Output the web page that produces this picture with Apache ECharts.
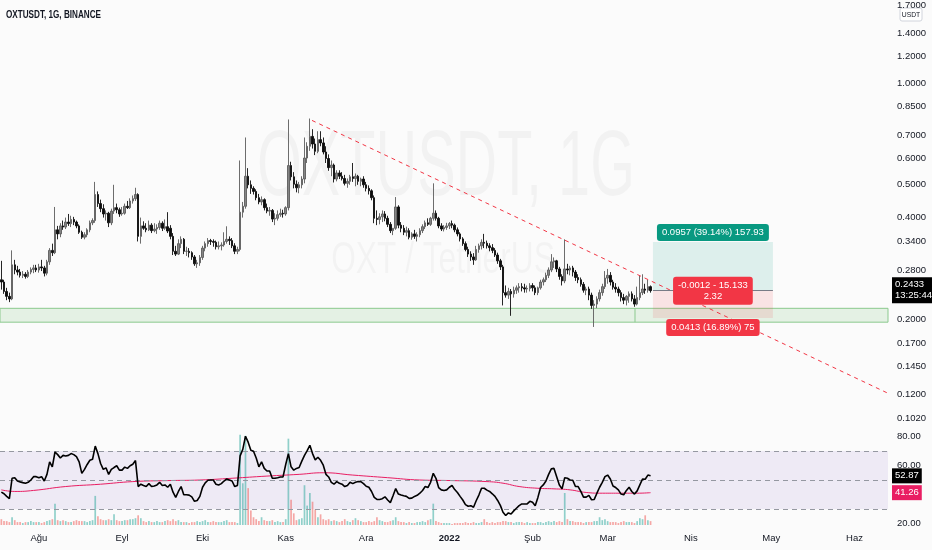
<!DOCTYPE html>
<html><head><meta charset="utf-8">
<script src="https://cdn.jsdelivr.net/npm/echarts@6/dist/echarts.min.js"></script>
<style>html,body{margin:0;padding:0;background:#fbfbfb}#c{width:932px;height:550px}</style>
</head><body><div id="c"></div>
<script>
// ---------- data ----------
const startDate = '2021-07-18';
const monthStarts = ['2021-08-01','2021-09-01','2021-10-01','2021-11-01','2021-12-01','2022-01-01','2022-02-01','2022-03-01','2022-04-01','2022-05-01','2022-06-01'];
const monthLabels = ['Ağu','Eyl','Eki','Kas','Ara','2022','Şub','Mar','Nis','May','Haz'];
const priceTicks = [1.7,1.4,1.2,1.0,0.85,0.7,0.6,0.5,0.4,0.34,0.28,0.2,0.17,0.145,0.12,0.102];
const rsiTicks = [20,60,80];
// [open, high, low, close]
const ohlc = [
[.262,.298,.245,.258],[.258,.262,.238,.242],[.242,.248,.228,.234],[.234,.240,.225,.230],[.230,.320,.228,.290],
[.290,.300,.272,.280],[.280,.288,.270,.276],[.276,.282,.266,.270],[.270,.278,.265,.272],[.272,.276,.264,.268],
[.268,.280,.265,.276],[.276,.285,.272,.281],[.281,.290,.274,.284],[.284,.290,.276,.280],[.280,.292,.275,.286],
[.286,.300,.278,.284],[.284,.288,.268,.274],[.274,.300,.270,.296],[.296,.325,.290,.320],[.320,.335,.308,.315],
[.315,.430,.312,.368],[.368,.378,.345,.358],[.358,.385,.350,.378],[.378,.392,.368,.375],[.375,.400,.370,.388],
[.388,.410,.378,.384],[.384,.405,.375,.395],[.395,.402,.380,.388],[.388,.392,.372,.378],[.378,.382,.358,.362],
[.362,.366,.346,.350],[.350,.362,.345,.356],[.356,.372,.350,.368],[.368,.392,.362,.386],[.386,.398,.380,.392],
[.392,.510,.386,.468],[.468,.478,.430,.440],[.440,.452,.415,.425],[.425,.438,.400,.410],[.410,.420,.392,.412],
[.412,.416,.375,.386],[.386,.425,.380,.418],[.418,.500,.410,.428],[.428,.440,.412,.422],[.422,.428,.402,.410],
[.410,.430,.405,.412],[.412,.440,.408,.432],[.432,.448,.424,.428],[.428,.456,.424,.448],[.448,.465,.440,.455],
[.455,.490,.448,.468],[.468,.472,.340,.352],[.352,.400,.335,.378],[.378,.390,.368,.372],[.372,.385,.362,.368],
[.368,.392,.365,.380],[.380,.385,.360,.366],[.366,.385,.362,.370],[.370,.382,.358,.374],[.374,.392,.368,.385],
[.385,.390,.365,.372],[.372,.395,.368,.376],[.376,.415,.360,.365],[.372,.380,.345,.352],[.352,.360,.310,.318],
[.318,.330,.308,.312],[.312,.345,.310,.335],[.335,.352,.325,.345],[.345,.348,.312,.318],[.318,.328,.308,.318],
[.318,.325,.305,.315],[.315,.318,.300,.306],[.306,.310,.288,.292],[.292,.300,.284,.294],[.294,.310,.288,.305],
[.305,.330,.300,.325],[.325,.340,.318,.335],[.335,.348,.328,.342],[.342,.346,.332,.340],[.340,.345,.328,.338],
[.338,.342,.322,.328],[.328,.340,.322,.330],[.330,.338,.320,.332],[.332,.362,.328,.340],[.340,.377,.335,.345],
[.345,.352,.332,.342],[.342,.348,.325,.330],[.330,.336,.312,.318],[.318,.328,.312,.322],[.322,.590,.318,.415],
[.415,.445,.400,.432],[.432,.690,.425,.530],[.530,.560,.488,.500],[.500,.515,.470,.488],[.488,.495,.468,.478],
[.478,.485,.450,.458],[.458,.470,.438,.445],[.445,.462,.435,.452],[.452,.456,.420,.428],[.428,.440,.412,.418],
[.418,.430,.405,.420],[.420,.424,.388,.396],[.396,.412,.380,.398],[.398,.420,.392,.408],[.408,.425,.402,.412],
[.412,.422,.400,.410],[.410,.432,.405,.428],[.428,.780,.420,.570],[.570,.585,.515,.528],[.528,.545,.488,.502],
[.502,.515,.475,.490],[.490,.510,.472,.500],[.500,.530,.488,.520],[.520,.690,.505,.600],[.600,.668,.580,.650],
[.650,.785,.630,.695],[.695,.730,.640,.660],[.660,.685,.612,.628],[.628,.720,.620,.680],[.680,.720,.650,.665],
[.665,.690,.615,.625],[.625,.650,.580,.598],[.598,.615,.550,.562],[.562,.590,.530,.572],[.572,.578,.508,.520],
[.520,.552,.512,.542],[.542,.552,.520,.530],[.530,.545,.515,.522],[.522,.535,.498,.505],[.505,.522,.490,.512],
[.512,.535,.500,.528],[.528,.580,.510,.522],[.522,.540,.495,.530],[.530,.535,.500,.512],[.512,.525,.495,.520],
[.520,.530,.490,.500],[.500,.510,.478,.488],[.488,.498,.468,.480],[.480,.485,.450,.458],[.458,.465,.385,.398],
[.398,.420,.380,.395],[.395,.412,.382,.402],[.402,.420,.388,.410],[.410,.418,.390,.398],[.398,.405,.375,.382],
[.382,.388,.360,.366],[.366,.372,.355,.372],[.372,.460,.368,.430],[.430,.435,.372,.380],[.380,.388,.362,.372],
[.372,.380,.355,.362],[.362,.376,.352,.366],[.366,.372,.345,.350],[.350,.362,.344,.358],[.358,.368,.346,.352],
[.352,.362,.340,.356],[.356,.372,.350,.366],[.366,.382,.360,.376],[.376,.392,.370,.386],[.386,.398,.378,.382],
[.382,.402,.378,.398],[.398,.505,.392,.412],[.412,.420,.392,.398],[.398,.402,.372,.378],[.378,.385,.365,.370],
[.370,.380,.364,.374],[.374,.386,.368,.378],[.378,.388,.370,.384],[.384,.392,.372,.380],[.380,.384,.362,.368],
[.368,.374,.352,.358],[.358,.362,.340,.346],[.346,.350,.330,.335],[.335,.340,.318,.322],[.322,.328,.306,.312],
[.312,.318,.298,.306],[.306,.314,.290,.300],[.300,.330,.298,.322],[.322,.335,.315,.330],[.330,.345,.322,.338],
[.338,.358,.325,.336],[.336,.342,.324,.330],[.330,.336,.318,.326],[.326,.334,.314,.320],[.320,.325,.306,.310],
[.310,.315,.292,.298],[.298,.302,.280,.286],[.286,.290,.220,.240],[.240,.252,.232,.236],[.236,.248,.230,.242],
[.242,.246,.205,.238],[.238,.250,.232,.244],[.244,.252,.238,.248],[.248,.256,.240,.250],[.250,.256,.242,.248],
[.248,.255,.240,.246],[.246,.252,.240,.247],[.247,.256,.242,.252],[.252,.256,.242,.248],[.248,.252,.236,.240],
[.240,.250,.236,.248],[.248,.262,.245,.258],[.258,.266,.252,.262],[.262,.275,.258,.270],[.270,.285,.265,.280],
[.280,.312,.276,.296],[.296,.305,.284,.298],[.298,.300,.276,.282],[.282,.286,.262,.268],[.268,.272,.252,.260],
[.260,.345,.256,.282],[.282,.292,.272,.280],[.280,.288,.270,.284],[.284,.288,.268,.276],[.276,.280,.260,.266],
[.266,.272,.256,.262],[.262,.266,.250,.254],[.254,.258,.240,.244],[.244,.250,.236,.246],[.246,.250,.228,.236],
[.236,.240,.215,.220],[.220,.228,.190,.222],[.222,.234,.216,.230],[.230,.245,.226,.240],[.240,.255,.235,.250],
[.250,.278,.246,.265],[.265,.282,.255,.270],[.270,.276,.252,.258],[.258,.262,.245,.249],[.249,.256,.240,.246],
[.246,.250,.234,.240],[.240,.244,.226,.232],[.232,.238,.222,.228],[.228,.236,.220,.234],[.234,.242,.224,.238],
[.238,.242,.226,.230],[.230,.236,.218,.222],[.222,.250,.220,.232],[.232,.270,.228,.240],[.240,.272,.236,.246],
[.246,.255,.238,.244],[.244,.262,.240,.250],[.250,.252,.240,.2433]
];
const volume = [
6,4,4,3,8,5,3,3,2,3, 3,4,3,3,3,2,3,4,5,6, 22,5,4,5,4,3,3,4,5,4, 4,4,3,4,5,30,9,6,5,5,
6,5,11,5,4,4,5,5,6,6, 7,10,7,4,3,4,3,3,4,3, 3,4,5,4,6,4,5,3,3,3, 2,3,3,4,3,4,5,3,3,4,
3,3,3,4,5,3,3,3,2,93, 43,92,38,15,8,6,4,8,5,4, 4,5,3,4,3,3,6,89,26,12, 5,6,7,41,20,33,24,16,8,11,
6,5,6,4,5,4,3,4,6,4, 3,5,7,5,4,3,3,4,3,4, 8,5,4,3,3,4,5,8,4,3, 3,2,3,2,2,3,3,4,3,5,
6,22,4,3,2,2,2,2,1,2, 2,2,2,3,2,2,3,2,2,3, 6,3,2,3,2,3,3,4,4,3, 3,2,3,3,3,2,3,2,2,2,
3,3,2,3,4,3,4,3,4,3, 33,6,4,4,3,3,3,2,3,3, 3,4,4,8,5,6,4,3,3,3, 2,3,4,3,3,3,2,4,7,6, 10,5,4
];
const rsi = [
41.6,40.5,38.7,37.1,51.2,51.6,49.3,48.7,48.2,47.8, 48.4,50.0,52.3,52.3,51.6,52.3,49.3,53.9,62.5,59.1,
69.3,67.5,65.2,67.0,66.6,67.0,68.2,67.5,66.1,62.5, 54.6,57.3,60.7,63.6,64.3,73.4,68.2,61.4,57.3,58.4,
53.9,57.3,58.6,59.8,56.8,56.8,58.9,58.0,59.8,60.9, 63.4,45.5,47.1,46.2,45.5,47.5,45.5,45.9,46.6,48.4,
46.2,46.6,45.0,47.1,41.6,38.0,42.1,45.5,39.8,39.8, 39.6,38.4,35.3,35.9,38.7,45.0,48.0,49.8,50.0,50.0,
47.1,46.6,47.5,49.3,50.7,50.0,49.3,45.5,46.2,66.6, 71.1,80.2,76.1,70.5,69.8,65.2,59.1,62.5,58.0,56.2,
56.2,51.2,51.2,51.6,52.1,52.1,60.7,68.2,59.1,56.8, 58.0,58.6,63.0,67.0,70.2,73.9,68.2,63.9,65.7,63.6,
60.2,53.9,52.1,48.4,47.1,48.9,47.8,47.1,45.5,46.2, 48.4,47.5,48.4,48.9,48.9,47.5,45.7,45.0,42.1,38.0,
36.6,36.6,37.1,38.4,36.2,34.4,39.1,44.1,40.3,39.6, 39.1,38.7,37.3,37.5,38.7,39.4,40.9,42.8,45.5,44.8,
48.4,54.6,51.2,44.8,43.2,42.8,43.2,45.0,46.2,43.4, 41.4,38.7,36.2,33.0,31.9,32.3,31.2,35.7,39.6,44.3,
44.3,43.0,42.1,40.5,38.7,35.9,32.5,27.8,25.5,27.3, 26.6,28.7,30.5,32.3,33.5,33.5,33.5,35.3,34.6,32.3,
38.0,44.8,46.6,49.3,53.9,57.7,58.0,52.3,46.6,43.9, 51.6,51.2,50.0,49.8,45.5,45.5,42.1,38.2,38.2,39.4,
36.4,36.6,40.9,45.0,48.4,52.3,53.4,50.7,45.9,44.8, 43.2,40.3,39.8,42.8,45.0,42.1,40.3,42.5,46.6,50.7,
50.5,53.4,52.87
];
// RSI moving average, read at [candle index, value]
const rsiMa = [[0,43.2],[5,42.1],[12,42.8],[24,45.5],[37,47.1],[49,48.9],[62,49.6],[74,50.0],[86,51.2],[99,52.7],
[111,53.9],[120,55.0],[131,53.4],[144,51.6],[156,50.0],[168,49.6],[181,48.9],[187,47.8],[193,45.5],[200,44.3],
[206,43.9],[212,43.2],[218,41.4],[224,40.9],[231,40.9],[237,40.9],[242,41.26]];
const lastPrice = 0.2433, lastTime = '13:25:44';
const rsiLast = 52.87, rsiMaLast = 41.26;
const supportZone = [0.1963, 0.2157];
const supportMarkIdx = 236.2;
const trendLine = [[115.8, 0.775], [330.5, 0.121]];
const pos = { from: 242.88, to: 287.6, entry: 0.2433, target: 0.3390, stop: 0.2020 };
const posLabels = ['0.0957 (39.14%) 157.93', '-0.0012 - 15.133\n2.32', '0.0413 (16.89%) 75'];

// ---------- build ----------
const FF = "'Liberation Sans',Arial,sans-serif";
const L = Math.log;
const day0 = Date.parse(startDate);
const monthIdx = monthStarts.map(d => Math.round((Date.parse(d) - day0) / 864e5));
const X0 = -0.5, X1 = 330.5;
const candles = ohlc.map((r, i) => [i, L(r[0]), L(r[3]), L(r[2]), L(r[1])]);
const vols = volume.map((v, i) => {
  const r = ohlc[i] || ohlc[ohlc.length - 1];
  const up = r[3] >= r[0];
  return { value: [i, v], itemStyle: { color: up ? 'rgba(38,166,154,0.5)' : 'rgba(239,83,80,0.5)' } };
});
const YMAX = 0.33647 + 29.3 / 148.5, YMIN = 0.33647 - (428 - 29.3) / 148.5;
const posMid = (pos.from + pos.to) / 2;
const clear = 'rgba(0,0,0,0)';
const tagLabel = (txt, bg) => ({ show: true, position: 'end', distance: 4, formatter: txt, backgroundColor: bg, color: '#fff',
  padding: [2, 3], fontSize: 9.5, lineHeight: 11, fontFamily: FF });
const posLabel = (txt, bg, position) => ({ show: true, position: position, distance: 1, formatter: txt, backgroundColor: bg, color: '#fff',
  opacity: 1, padding: [3, 5], borderRadius: 3, fontSize: 9.5, lineHeight: 11, fontFamily: FF });

const option = {
  backgroundColor: '#fbfbfb',
  animation: false,
  textStyle: { fontFamily: FF },
  grid: [
    { left: 0, right: 44, top: 0, height: 428 },
    { left: 0, right: 44, top: 428, height: 102 },
    { left: 0, right: 44, top: 428, height: 97 }
  ],
  xAxis: [
    { gridIndex: 0, type: 'value', min: X0, max: X1, show: false },
    { gridIndex: 1, type: 'value', min: X0, max: X1, axisLine: { show: false }, axisTick: { show: false }, splitLine: { show: false },
      axisLabel: { customValues: monthIdx, margin: 3, color: '#131722', fontSize: 9.5, fontFamily: FF,
        formatter: v => { const t = monthLabels[monthIdx.indexOf(Math.round(v))] || ''; return t === '2022' ? '{b|2022}' : t; },
        rich: { b: { fontWeight: 'bold', fontSize: 9.5, color: '#131722', fontFamily: FF } } } },
    { gridIndex: 2, type: 'value', min: X0, max: X1, show: false }
  ],
  yAxis: [
    { gridIndex: 0, type: 'value', position: 'right', min: YMIN, max: YMAX, axisLine: { show: false }, axisTick: { show: false }, splitLine: { show: false },
      axisLabel: { customValues: priceTicks.map(L), formatter: v => Math.exp(v).toFixed(4), color: '#131722', fontSize: 9.5, margin: 9, fontFamily: FF } },
    { gridIndex: 1, type: 'value', position: 'right', min: 15.52, max: 85.86, axisLine: { show: false }, axisTick: { show: false }, splitLine: { show: false },
      axisLabel: { customValues: rsiTicks, formatter: v => v.toFixed(2), color: '#131722', fontSize: 9.5, margin: 9, fontFamily: FF } },
    { gridIndex: 2, type: 'value', min: 0, max: 100, show: false }
  ],
  graphic: [
    { type: 'text', x: 446, y: 169, scaleX: 0.62, z: -1, style: { text: 'OXTUSDT, 1G', font: '93px ' + FF, fill: 'rgba(0,0,0,0.035)', align: 'center', verticalAlign: 'middle' } },
    { type: 'text', x: 443, y: 261, scaleX: 0.72, z: -1, style: { text: 'OXT / TetherUS', font: '44px ' + FF, fill: 'rgba(0,0,0,0.032)', align: 'center', verticalAlign: 'middle' } },
    { type: 'text', x: 6, y: 15, scaleX: 0.74, style: { text: 'OXTUSDT, 1G, BINANCE', font: 'bold 11px ' + FF, fill: '#131722', verticalAlign: 'middle' } },
    { type: 'group', x: 900, y: 8, children: [
      { type: 'rect', shape: { x: 0, y: 0, width: 22, height: 13, r: 2 }, style: { fill: '#fff', stroke: '#d1d4dc' } },
      { type: 'text', x: 11, y: 7, scaleX: 0.85, style: { text: 'USDT', font: '8px ' + FF, fill: '#131722', align: 'center', verticalAlign: 'middle' } }
    ] }
  ],
  series: [
    { type: 'candlestick', xAxisIndex: 0, yAxisIndex: 0, data: candles, encode: { x: 0, y: [1, 2, 3, 4] }, barWidth: 2, z: 3,
      itemStyle: { color: '#858585', color0: '#0d0d0d', borderColor: '#5c5c5c', borderColor0: '#0d0d0d', borderWidth: 0.9 },
      markArea: { silent: true, data: [
        [{ xAxis: X0, yAxis: L(supportZone[0]), itemStyle: { color: 'rgba(76,175,80,0.13)', borderColor: '#8bc98e', borderWidth: 1 } }, { xAxis: X1, yAxis: L(supportZone[1]) }],
        [{ xAxis: pos.from, yAxis: L(pos.entry), itemStyle: { color: 'rgba(8,153,129,0.12)' } }, { xAxis: pos.to, yAxis: L(pos.target) }],
        [{ xAxis: pos.from, yAxis: L(pos.stop), itemStyle: { color: 'rgba(242,54,69,0.12)' } }, { xAxis: pos.to, yAxis: L(pos.entry) }]
      ] },
      markLine: { silent: true, symbol: ['none', 'none'], data: [
        { yAxis: L(lastPrice), lineStyle: { color: clear, width: 0 }, label: tagLabel(lastPrice.toFixed(4) + '\n' + lastTime, '#000') },
        [{ coord: [pos.from, L(pos.entry)], lineStyle: { color: '#787b86', width: 1, type: 'solid' }, label: { show: false } }, { coord: [pos.to, L(pos.entry)] }]
      ] } },
    { type: 'line', xAxisIndex: 0, yAxisIndex: 0, data: trendLine.map(p => [p[0], L(p[1])]), showSymbol: false, silent: true, z: 4,
      lineStyle: { color: '#f23645', width: 1, type: [4, 4] } },
    { type: 'line', xAxisIndex: 0, yAxisIndex: 0, data: [[supportMarkIdx, L(supportZone[1])], [supportMarkIdx, L(supportZone[0])]], showSymbol: false, silent: true,
      lineStyle: { color: '#8bc98e', width: 1 } },
    { type: 'scatter', xAxisIndex: 0, yAxisIndex: 0, symbolSize: 0, silent: true, z: 6,
      data: [
        { value: [posMid, L(pos.target)], label: posLabel(posLabels[0], '#089981', 'top') },
        { value: [posMid, L(pos.entry)], label: posLabel(posLabels[1], '#f23645', 'inside') },
        { value: [posMid, L(pos.stop)], label: posLabel(posLabels[2], '#f23645', 'bottom') }
      ] },
    { type: 'bar', xAxisIndex: 2, yAxisIndex: 2, data: vols, barWidth: 1.7, z: 1, silent: true },
    { type: 'line', xAxisIndex: 1, yAxisIndex: 1, data: rsi.map((v, i) => [i, v]), showSymbol: false, silent: true, z: 5,
      lineStyle: { color: '#000', width: 1.6 },
      markArea: { silent: true, data: [[{ xAxis: X0, yAxis: 30, itemStyle: { color: 'rgba(126,87,194,0.1)' } }, { xAxis: X1, yAxis: 70 }]] },
      markLine: { silent: true, symbol: ['none', 'none'], data: [
        { yAxis: 70, lineStyle: { color: '#9598a1', type: [5, 4], width: 1 }, label: { show: false } },
        { yAxis: 50, lineStyle: { color: '#9598a1', type: [5, 4], width: 1 }, label: { show: false } },
        { yAxis: 30, lineStyle: { color: '#9598a1', type: [5, 4], width: 1 }, label: { show: false } },
        { yAxis: rsiLast, lineStyle: { color: clear, width: 0 }, label: tagLabel(rsiLast.toFixed(2), '#000') }
      ] } },
    { type: 'line', xAxisIndex: 1, yAxisIndex: 1, data: rsiMa, smooth: true, showSymbol: false, silent: true, z: 4,
      lineStyle: { color: '#e91e63', width: 1 },
      markLine: { silent: true, symbol: ['none', 'none'], data: [
        { yAxis: rsiMaLast, lineStyle: { color: clear, width: 0 }, label: tagLabel(rsiMaLast.toFixed(2), '#e91e63') }
      ] } }
  ]
};
const chart = echarts.init(document.getElementById('c'));
chart.setOption(option);
</script></body></html>
